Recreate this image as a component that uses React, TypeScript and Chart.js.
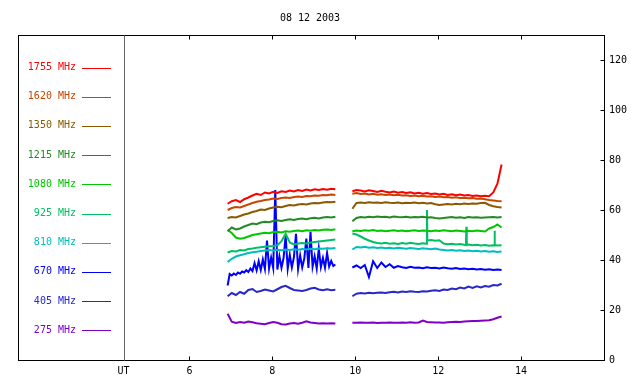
import React, { useEffect, useRef } from 'react';
import { Chart, registerables } from 'chart.js';
Chart.register(...registerables);

const TITLE = '08 12 2003';
const X_LABEL = 'UT';
const X_MIN = 4.42;
const X_MAX = 16;
const X_TICKS = [6, 8, 10, 12, 14];
const Y_MIN = 0;
const Y_MAX = 130;
const Y_TICKS = [0, 20, 40, 60, 80, 100, 120];
const GAP_TIME = 9.72;

const LABELS = ['1755 MHz', '1620 MHz', '1350 MHz', '1215 MHz', '1080 MHz', '925 MHz', '810 MHz', '670 MHz', '405 MHz', '275 MHz'];
const COLORS = ['#ff0000', '#c84600', '#8a5a00', '#228b22', '#00c800', '#00bf64', '#00bebe', '#0000ff', '#2828c8', '#8000c8'];

// time grids (UT hours)
const T1 = [6.92, 7.02, 7.12, 7.22, 7.32, 7.42, 7.52, 7.62, 7.72, 7.82, 7.92, 8.02, 8.12, 8.22, 8.32, 8.42, 8.52, 8.62, 8.72, 8.82, 8.92, 9.02, 9.12, 9.22, 9.32, 9.42, 9.52];
const T1_FINE = [6.92, 6.97, 7.02, 7.07, 7.12, 7.17, 7.22, 7.27, 7.32, 7.37, 7.42, 7.47, 7.52, 7.57, 7.62, 7.67, 7.72, 7.77, 7.82, 7.87, 7.92, 7.97, 8.02, 8.07, 8.12, 8.17, 8.22, 8.27, 8.32, 8.37, 8.42, 8.47, 8.52, 8.57, 8.62, 8.67, 8.72, 8.77, 8.82, 8.87, 8.92, 8.97, 9.02, 9.07, 9.12, 9.17, 9.22, 9.27, 9.32, 9.37, 9.42, 9.47, 9.52];
const T2 = [9.93, 10.03, 10.13, 10.23, 10.33, 10.43, 10.53, 10.63, 10.73, 10.83, 10.93, 11.03, 11.13, 11.23, 11.33, 11.43, 11.53, 11.63, 11.73, 11.83, 11.93, 12.03, 12.13, 12.23, 12.33, 12.43, 12.53, 12.63, 12.73, 12.83, 12.93, 13.03, 13.13, 13.23, 13.33, 13.43, 13.53];
const T2_925 = [9.93, 10.03, 10.13, 10.23, 10.33, 10.43, 10.53, 10.63, 10.73, 10.83, 10.93, 11.03, 11.13, 11.23, 11.33, 11.43, 11.53, 11.63, 11.72, 11.73, 11.74, 11.83, 11.93, 12.03, 12.13, 12.23, 12.33, 12.43, 12.53, 12.63, 12.67, 12.68, 12.69, 12.73, 12.83, 12.93, 13.03, 13.13, 13.23, 13.33, 13.35, 13.36, 13.37, 13.43, 13.53];

// flux values per frequency: first block (before gap), second block (after gap)
const F1755_A = [62.5, 63.5, 64.0, 63.2, 64.3, 65.0, 65.8, 66.5, 66.0, 67.0, 66.6, 67.3, 66.8, 67.5, 67.2, 67.8, 67.4, 68.0, 67.6, 68.2, 67.8, 68.3, 68.0, 68.4, 68.1, 68.5, 68.3];
const F1755_B = [67.5, 68.0, 67.8, 67.4, 67.9, 67.6, 67.2, 67.7, 67.3, 67.0, 67.4, 66.9, 67.2, 66.8, 67.1, 66.6, 66.9, 66.5, 66.8, 66.4, 66.6, 66.2, 66.5, 66.0, 66.3, 65.9, 66.2, 65.8, 66.0, 65.6, 65.8, 65.5, 65.7, 65.5, 67.0, 70.5, 78.2];
const F1620_A = [60.0, 60.8, 61.2, 61.0, 61.6, 62.2, 62.8, 63.3, 63.6, 64.0, 64.2, 64.6, 64.4, 64.8, 65.0, 64.8, 65.2, 65.4, 65.2, 65.6, 65.5, 65.8, 65.7, 66.0, 65.9, 66.2, 66.0];
const F1620_B = [66.5, 66.8, 66.4, 66.6, 66.2, 66.5, 66.1, 66.3, 66.0, 66.2, 65.9, 66.1, 65.8, 65.9, 65.6, 65.8, 65.5, 65.7, 65.4, 65.5, 65.2, 65.4, 65.1, 65.2, 64.9, 65.1, 64.8, 64.9, 64.7, 64.8, 64.5, 64.6, 64.3, 64.0, 63.8, 63.6, 63.5];
const F1350_A = [56.8, 57.2, 57.0, 57.6, 58.2, 58.6, 59.2, 59.6, 60.2, 60.0, 60.6, 61.0, 61.3, 61.1, 61.6, 62.0, 61.8, 62.2, 62.4, 62.2, 62.6, 62.8, 62.7, 63.0, 63.2, 63.1, 63.3];
const F1350_B = [60.5, 62.8, 63.0, 62.8, 63.1, 62.9, 63.0, 62.8, 63.1, 62.9, 62.8, 63.0, 62.7, 62.9, 62.8, 63.0, 62.7, 62.9, 62.6, 62.8, 62.3, 62.0, 62.2, 62.4, 62.2, 62.5, 62.3, 62.6, 62.4, 62.6, 62.5, 62.8, 62.9, 62.0, 61.5, 61.2, 61.0];
const F1215_A = [51.5, 53.0, 52.2, 52.6, 53.4, 54.0, 54.6, 54.3, 55.0, 55.3, 55.1, 55.6, 55.9, 55.6, 56.0, 56.3, 56.0, 56.4, 56.6, 56.3, 56.7, 56.9, 56.6, 57.0, 57.2, 57.0, 57.3];
const F1215_B = [55.5, 56.8, 57.2, 57.0, 57.3, 57.1, 57.4, 57.2, 57.3, 57.0, 57.4, 57.2, 57.1, 57.3, 57.0, 57.2, 57.1, 57.3, 57.0, 57.1, 56.8, 56.6, 56.8, 57.0, 57.2, 56.9, 57.1, 56.8, 57.2, 57.0, 57.1, 56.9, 57.0, 57.1, 57.2, 57.0, 57.2];
const F1080_A = [52.0, 50.8, 49.0, 48.5, 48.8, 49.4, 50.0, 50.3, 50.6, 50.9, 50.7, 51.2, 51.3, 51.0, 51.5, 51.3, 51.6, 51.8, 51.5, 51.9, 51.7, 52.0, 51.8, 52.1, 52.2, 52.0, 52.3];
const F1080_B = [51.5, 51.8, 51.6, 51.9, 51.7, 52.0, 51.6, 51.8, 51.5, 51.7, 51.9, 51.6, 51.8, 51.5, 51.7, 51.9, 51.6, 51.8, 51.7, 51.5, 51.8, 51.6, 51.9, 51.7, 51.5, 51.8, 51.6, 51.4, 51.7, 51.5, 51.8, 51.6, 51.4, 52.6, 53.2, 54.2, 53.0];
const F925_A = [43.0, 43.6, 43.4, 44.0, 43.8, 44.4, 44.6, 44.9, 45.1, 45.3, 45.5, 45.6, 45.9, 47.5, 50.5, 47.0, 46.2, 46.6, 46.8, 46.6, 47.0, 47.2, 47.4, 47.6, 47.8, 48.0, 48.2];
const F925_B = [50.6, 50.2, 49.4, 48.5, 47.8, 47.2, 46.8, 46.6, 46.9, 46.5, 46.7, 46.4, 46.8, 46.5, 46.9, 46.6, 46.4, 46.7, 46.5, 60.0, 47.8, 48.0, 47.7, 47.9, 46.6, 46.3, 46.5, 46.2, 46.4, 46.1, 46.0, 53.3, 46.0, 46.2, 45.9, 46.1, 45.8, 46.0, 45.7, 45.9, 45.8, 51.7, 46.0, 45.8, 45.9];
const F810_A = [39.2, 40.5, 41.4, 41.9, 42.3, 42.8, 43.1, 43.3, 43.6, 43.8, 44.0, 43.8, 44.1, 43.9, 44.2, 44.0, 44.3, 44.1, 44.4, 44.2, 44.5, 44.3, 44.6, 44.5, 44.7, 44.6, 44.8];
const F810_B = [44.2, 45.2, 45.0, 45.3, 44.9, 45.1, 44.8, 45.0, 44.7, 44.9, 44.6, 44.9, 44.7, 44.5, 44.8, 44.6, 44.4, 44.7, 44.5, 44.3, 44.6, 44.2, 44.0, 43.8, 44.0, 43.7, 43.9, 43.6, 43.8, 43.5, 43.7, 43.4, 43.6, 43.3, 43.5, 43.2, 43.4];
const F670_A = [29.8, 34.4, 33.8, 34.6, 34.0, 35.0, 34.5, 35.4, 35.0, 35.9, 35.2, 36.6, 35.6, 38.8, 35.8, 39.5, 36.0, 40.2, 36.4, 47.8, 36.6, 41.0, 36.8, 68.0, 36.2, 41.5, 36.9, 40.8, 49.8, 36.5, 42.0, 37.0, 41.2, 50.5, 36.4, 41.8, 37.0, 40.6, 48.6, 36.8, 51.2, 37.3, 41.5, 36.6, 44.6, 37.2, 40.8, 36.9, 42.8, 37.4, 39.6, 37.6, 38.2];
const F670_B = [37.0, 37.8, 36.8, 38.0, 33.2, 39.5, 36.8, 39.0, 37.2, 38.3, 36.9, 37.6, 37.1, 36.8, 37.3, 36.9, 37.0, 36.7, 37.1, 36.8, 36.9, 36.6, 37.0, 36.7, 36.5, 36.8, 36.4, 36.6, 36.3, 36.5, 36.2, 36.4, 36.1, 36.3, 36.0, 36.2, 36.0];
const F405_A = [25.5, 26.8, 26.0, 27.2, 26.5, 28.0, 28.4, 27.2, 27.6, 28.2, 27.8, 27.4, 28.3, 29.2, 29.7, 28.8, 28.0, 27.8, 27.6, 28.0, 28.6, 28.9, 28.2, 27.9, 28.3, 27.9, 28.1];
const F405_B = [25.5, 26.5, 26.8, 26.6, 26.9, 26.7, 26.9, 27.0, 26.8, 27.1, 27.3, 27.0, 27.4, 27.2, 27.5, 27.3, 27.2, 27.5, 27.4, 27.7, 27.9, 27.6, 28.2, 28.0, 28.6, 28.3, 29.0, 28.6, 29.4, 28.8, 29.5, 29.0, 29.6, 29.3, 30.0, 29.8, 30.5];
const F275_A = [18.5, 15.3, 14.8, 15.2, 14.9, 15.4, 15.1, 14.7, 14.5, 14.3, 14.8, 15.2, 14.9, 14.3, 14.2, 14.6, 14.8, 14.5, 14.9, 15.5, 15.0, 14.8, 14.6, 14.7, 14.6, 14.7, 14.6];
const F275_B = [14.9, 14.9, 15.0, 14.9, 14.9, 15.0, 14.8, 14.9, 14.9, 15.0, 14.9, 14.9, 15.0, 14.9, 15.1, 14.9, 15.0, 15.8, 15.2, 15.1, 15.0, 15.0, 14.9, 15.1, 15.2, 15.3, 15.2, 15.4, 15.5, 15.6, 15.6, 15.7, 15.8, 15.9, 16.3, 16.9, 17.4];

const SERIES = [
  { ta: T1, va: F1755_A, tb: T2, vb: F1755_B },
  { ta: T1, va: F1620_A, tb: T2, vb: F1620_B },
  { ta: T1, va: F1350_A, tb: T2, vb: F1350_B },
  { ta: T1, va: F1215_A, tb: T2, vb: F1215_B },
  { ta: T1, va: F1080_A, tb: T2, vb: F1080_B },
  { ta: T1, va: F925_A, tb: T2_925, vb: F925_B },
  { ta: T1, va: F810_A, tb: T2, vb: F810_B },
  { ta: T1_FINE, va: F670_A, tb: T2, vb: F670_B },
  { ta: T1, va: F405_A, tb: T2, vb: F405_B },
  { ta: T1, va: F275_A, tb: T2, vb: F275_B },
];

const FONT = '10px "DejaVu Sans Mono", monospace';

const framePlugin = {
  id: 'frame',
  afterDraw(chart: any) {
    const { ctx, chartArea, scales } = chart;
    const xs = scales.x;
    const ys = scales.y;
    const left = 18.5;
    const top = Math.round(chartArea.top) + 0.5;
    const bottom = Math.round(chartArea.bottom) + 0.5;
    const right = Math.round(chartArea.right) + 0.5;
    const inner = Math.round(chartArea.left) + 0.5;
    ctx.save();
    ctx.lineWidth = 1;
    ctx.strokeStyle = '#000';
    ctx.strokeRect(left, top, right - left, bottom - top);
    ctx.strokeStyle = '#666';
    ctx.beginPath();
    ctx.moveTo(inner, top);
    ctx.lineTo(inner, bottom);
    ctx.stroke();
    ctx.strokeStyle = '#000';
    ctx.beginPath();
    X_TICKS.forEach((v) => {
      const px = Math.round(xs.getPixelForValue(v)) + 0.5;
      ctx.moveTo(px, bottom);
      ctx.lineTo(px, bottom - 4);
      ctx.moveTo(px, top);
      ctx.lineTo(px, top + 4);
    });
    Y_TICKS.forEach((v) => {
      const py = Math.round(ys.getPixelForValue(v)) + 0.5;
      ctx.moveTo(right, py);
      ctx.lineTo(right - 4, py);
    });
    ctx.stroke();
    ctx.font = FONT;
    ctx.fillStyle = '#000';
    ctx.textAlign = 'center';
    ctx.textBaseline = 'middle';
    ctx.fillText(TITLE, 310, 18);
    ctx.fillText(X_LABEL, inner - 1, 371);
    LABELS.forEach((lab, i) => {
      const y = 67.5 + i * 29.2;
      ctx.fillStyle = COLORS[i];
      ctx.textAlign = 'right';
      ctx.fillText(lab, 76, y);
      ctx.strokeStyle = COLORS[i];
      ctx.beginPath();
      ctx.moveTo(82, Math.round(y) + 0.5);
      ctx.lineTo(111, Math.round(y) + 0.5);
      ctx.stroke();
    });
    ctx.restore();
  },
};

export default function App() {
  const ref = useRef<HTMLCanvasElement | null>(null);
  useEffect(() => {
    if (!ref.current) return;
    const datasets = SERIES.map((s, i) => ({
      label: LABELS[i],
      borderColor: COLORS[i],
      backgroundColor: COLORS[i],
      data: [
        ...s.ta.map((t, k) => ({ x: t, y: s.va[k] })),
        { x: GAP_TIME, y: null },
        ...s.tb.map((t, k) => ({ x: t, y: s.vb[k] })),
      ],
      spanGaps: false,
      pointRadius: 0,
      borderWidth: 2,
      tension: 0,
    }));
    const chart = new Chart(ref.current, {
      type: 'line',
      data: { datasets } as any,
      options: {
        animation: false,
        responsive: false,
        maintainAspectRatio: false,
        devicePixelRatio: 1,
        parsing: false,
        layout: { padding: { left: 124, right: 8, top: 35, bottom: 2 } },
        plugins: { legend: { display: false }, tooltip: { enabled: false }, title: { display: false } },
        scales: {
          x: {
            type: 'linear',
            position: 'bottom',
            min: X_MIN,
            max: X_MAX,
            grid: { display: false, drawTicks: false },
            border: { display: false },
            afterBuildTicks: (s: any) => { s.ticks = X_TICKS.map((v) => ({ value: v })); },
            ticks: { font: { family: '"DejaVu Sans Mono", monospace', size: 10 }, color: '#000', padding: 5, maxRotation: 0, autoSkip: false, callback: (v: any) => String(v) },
          },
          y: {
            type: 'linear',
            position: 'right',
            min: Y_MIN,
            max: Y_MAX,
            grid: { display: false, drawTicks: false },
            border: { display: false },
            afterBuildTicks: (s: any) => { s.ticks = Y_TICKS.map((v) => ({ value: v })); },
            ticks: { font: { family: '"DejaVu Sans Mono", monospace', size: 10 }, color: '#000', padding: 5, callback: (v: any) => String(v) },
          },
        },
      } as any,
      plugins: [framePlugin],
    });
    return () => chart.destroy();
  }, []);
  return (
    <div style={{ position: 'absolute', left: 0, top: 0, width: 640, height: 384, background: '#fff' }}>
      <canvas ref={ref} width={640} height={384} style={{ display: 'block' }} />
    </div>
  );
}
